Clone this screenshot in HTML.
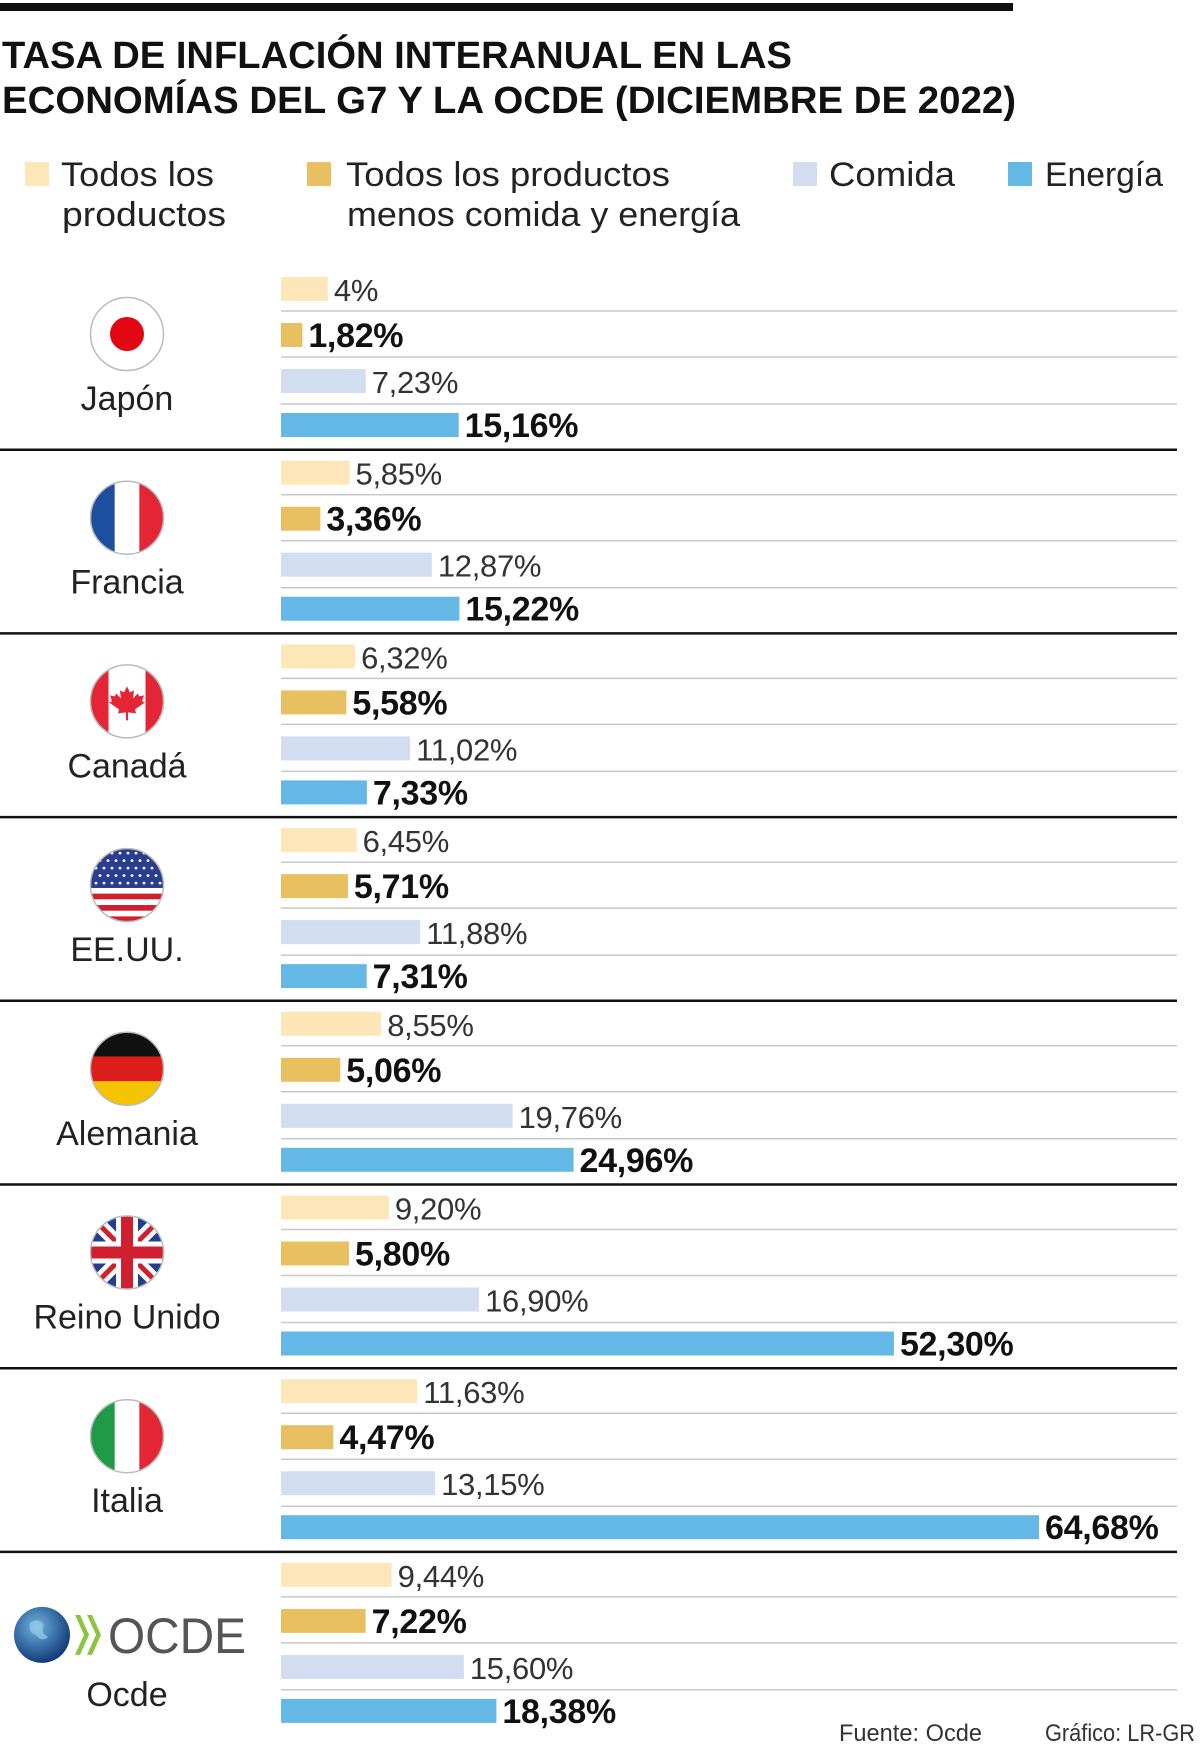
<!DOCTYPE html>
<html><head><meta charset="utf-8">
<style>
html,body{margin:0;padding:0;background:#fff;}
svg{display:block;font-family:"Liberation Sans",sans-serif;}
</style></head>
<body>
<svg id="chart" width="1200" height="1749" viewBox="0 0 1200 1749" xmlns="http://www.w3.org/2000/svg">
  <rect x="0" y="3" width="1013" height="8" fill="#111"/>
  <text x="2" y="68" font-size="38" font-weight="bold" fill="#111" textLength="790" lengthAdjust="spacingAndGlyphs">TASA DE INFLACIÓN INTERANUAL EN LAS</text>
  <text x="2" y="113" font-size="38" font-weight="bold" fill="#111" textLength="1014" lengthAdjust="spacingAndGlyphs">ECONOMÍAS DEL G7 Y LA OCDE (DICIEMBRE DE 2022)</text>

  <g font-size="34" fill="#222">
    <g>
      <rect x="25" y="162" width="24" height="24" fill="#fde7b8"/>
      <text x="61" y="186" textLength="153" lengthAdjust="spacingAndGlyphs">Todos los</text>
      <text x="62" y="226" textLength="164" lengthAdjust="spacingAndGlyphs">productos</text>
    </g>
    <g>
      <rect x="307" y="162" width="24" height="24" fill="#e8c062"/>
      <text x="346" y="186" textLength="324" lengthAdjust="spacingAndGlyphs">Todos los productos</text>
      <text x="347" y="226" textLength="393" lengthAdjust="spacingAndGlyphs">menos comida y energía</text>
    </g>
    <g>
      <rect x="793" y="162" width="24" height="24" fill="#d3ddf0"/>
      <text x="829" y="186" textLength="126" lengthAdjust="spacingAndGlyphs">Comida</text>
    </g>
    <g>
      <rect x="1008" y="162" width="24" height="24" fill="#63b8e6"/>
      <text x="1045" y="186" textLength="118" lengthAdjust="spacingAndGlyphs">Energía</text>
    </g>
  </g>

  <g id="groups"></g>

  <text x="839" y="1741" font-size="24" fill="#333" textLength="143" lengthAdjust="spacingAndGlyphs">Fuente: Ocde</text>
  <text x="1045" y="1741" font-size="24" fill="#333" textLength="150" lengthAdjust="spacingAndGlyphs">Gráfico: LR-GR</text>
</svg>
<script>
const countries = ["Japón","Francia","Canadá","EE.UU.","Alemania","Reino Unido","Italia","Ocde"];
const todos = [4, 5.85, 6.32, 6.45, 8.55, 9.20, 11.63, 9.44];
const subyacente = [1.82, 3.36, 5.58, 5.71, 5.06, 5.80, 4.47, 7.22];
const comida = [7.23, 12.87, 11.02, 11.88, 19.76, 16.90, 13.15, 15.60];
const energia = [15.16, 15.22, 7.33, 7.31, 24.96, 52.30, 64.68, 18.38];
const todosLabels = ["4%","5,85%","6,32%","6,45%","8,55%","9,20%","11,63%","9,44%"];
const subyacenteLabels = ["1,82%","3,36%","5,58%","5,71%","5,06%","5,80%","4,47%","7,22%"];
const comidaLabels = ["7,23%","12,87%","11,02%","11,88%","19,76%","16,90%","13,15%","15,60%"];
const energiaLabels = ["15,16%","15,22%","7,33%","7,31%","24,96%","52,30%","64,68%","18,38%"];

const NS = "http://www.w3.org/2000/svg";
const X0 = 281, PX_PER_PCT = 11.72, GROUP_TOP = 266, GROUP_H = 183.7;
const xScale = v => v * PX_PER_PCT;
const groupY = i => GROUP_TOP + i * GROUP_H;
const root = document.getElementById("groups");

function mk(tag, attrs, parent) {
  const e = document.createElementNS(NS, tag);
  for (const k in attrs) e.setAttribute(k, attrs[k]);
  parent.appendChild(e);
  return e;
}

const series = [
  {vals: todos, labels: todosLabels, color: "#fde7b8", bold: false, key: "todos"},
  {vals: subyacente, labels: subyacenteLabels, color: "#e8c062", bold: true, key: "subyacente"},
  {vals: comida, labels: comidaLabels, color: "#d3ddf0", bold: false, key: "comida"},
  {vals: energia, labels: energiaLabels, color: "#63b8e6", bold: true, key: "energia"}
];
const rowOffsets = [23, 69, 115, 159];
const gridOffsets = [45, 91, 138];

function drawFlag(i, g, cx, cy) {
  const r = 37;
  const clipId = "clip" + i;
  const cp = mk("clipPath", {id: clipId}, g);
  mk("circle", {cx, cy, r}, cp);
  const fg = mk("g", {"clip-path": "url(#" + clipId + ")"}, g);
  const L = cx - r, T = cy - r, D = 2 * r;
  const name = countries[i];
  if (name === "Japón") {
    mk("rect", {x: L, y: T, width: D, height: D, fill: "#fff"}, fg);
    mk("circle", {cx, cy, r: 17, fill: "#e30613"}, fg);
  } else if (name === "Francia" || name === "Italia") {
    const c = name === "Francia" ? ["#1d4fa0", "#fff", "#e42535"] : ["#1f9a47", "#fff", "#e42535"];
    c.forEach((col, k) => mk("rect", {x: L + k * D / 3, y: T, width: D / 3 + 0.5, height: D, fill: col}, fg));
  } else if (name === "Canadá") {
    mk("rect", {x: L, y: T, width: D, height: D, fill: "#fff"}, fg);
    mk("rect", {x: L, y: T, width: D / 4, height: D, fill: "#e42535"}, fg);
    mk("rect", {x: L + D * 3 / 4, y: T, width: D / 4, height: D, fill: "#e42535"}, fg);
    mk("path", {d: `M${cx} ${cy-15} l3 6 4-2 -1 8 5-5 1 3 5-1 -2 6 3 1 -10 7 1 4 -8-1 0 8 -2 0 0-8 -8 1 1-4 -10-7 3-1 -2-6 5 1 1-3 5 5 -1-8 4 2z`, fill: "#e42535"}, fg);
  } else if (name === "EE.UU.") {
    for (let k = 0; k < 13; k++) mk("rect", {x: L, y: T + k * D / 13, width: D, height: D / 13 + 0.3, fill: k % 2 ? "#fff" : "#d0202f"}, fg);
    mk("rect", {x: L, y: T, width: D, height: D * 7 / 13, fill: "#2a3d8f"}, fg);
    for (let a = 0; a < 5; a++) for (let b = 0; b < 9; b++)
      mk("circle", {cx: L + 6 + b * 8 + (a % 2) * 4, cy: T + 5 + a * 7.5, r: 1.4, fill: "#fff"}, fg);
  } else if (name === "Alemania") {
    ["#111", "#dd1c1c", "#f5c400"].forEach((col, k) => mk("rect", {x: L, y: T + k * D / 3, width: D, height: D / 3 + 0.5, fill: col}, fg));
  } else if (name === "Reino Unido") {
    mk("rect", {x: L, y: T, width: D, height: D, fill: "#243d8c"}, fg);
    mk("path", {d: `M${L} ${T} L${L+D} ${T+D} M${L+D} ${T} L${L} ${T+D}`, stroke: "#fff", "stroke-width": 14}, fg);
    mk("path", {d: `M${L} ${T} L${L+D} ${T+D} M${L+D} ${T} L${L} ${T+D}`, stroke: "#d0202f", "stroke-width": 5}, fg);
    mk("path", {d: `M${cx} ${T} V${T+D} M${L} ${cy} H${L+D}`, stroke: "#fff", "stroke-width": 22}, fg);
    mk("path", {d: `M${cx} ${T} V${T+D} M${L} ${cy} H${L+D}`, stroke: "#d0202f", "stroke-width": 12}, fg);
  }
  mk("circle", {cx, cy, r: r - 0.5, fill: "none", stroke: "#bbb", "stroke-width": 1.5}, g);
}

function drawOcde(g, cx, cy) {
  const grad = mk("radialGradient", {id: "globeGrad", cx: "40%", cy: "35%", r: "65%"}, g);
  mk("stop", {offset: "0", "stop-color": "#6fb3e0"}, grad);
  mk("stop", {offset: "1", "stop-color": "#123d7a"}, grad);
  mk("circle", {cx: 42, cy: cy, r: 28, fill: "url(#globeGrad)"}, g);
  mk("path", {d: `M30 ${cy-12} q8 -6 14 2 q-4 8 4 12 q-6 6 -12 -2 q-8 -2 -6 -12z`, fill: "#a9d3ee", opacity: 0.6}, g);
  mk("path", {d: `M75 ${cy-20} l9 20 -9 20 h5 l9 -20 -9 -20z M87 ${cy-20} l9 20 -9 20 h5 l9 -20 -9 -20z`, fill: "#8cc43f"}, g);
  const t = mk("text", {x: 108, y: cy + 18, "font-size": 50, fill: "#555", textLength: 138, lengthAdjust: "spacingAndGlyphs"}, g);
  t.textContent = "OCDE";
}

countries.forEach((name, i) => {
  const t = groupY(i);
  const g = mk("g", {}, root);
  
  

  gridOffsets.forEach(o => {
    const ln = mk("line", {x1: X0, x2: 1177, y1: t + o, y2: t + o, stroke: "#c8c8c8", "stroke-width": 1.5}, g);
    
    
  });
  if (i < countries.length - 1) {
    const sep = mk("line", {x1: 0, x2: 1177, y1: t + GROUP_H, y2: t + GROUP_H, stroke: "#111", "stroke-width": 2.5}, g);
    
    
  }

  series.forEach((s, k) => {
    const cy = t + rowOffsets[k];
    const w = xScale(s.vals[i]);
    const bar = mk("rect", {x: X0, y: cy - 12, width: w, height: 24, fill: s.color}, g);
    
    
    const lbl = mk("text", {x: X0 + w + 6, y: cy + 12, "font-size": s.bold ? 34 : 31,
      "font-weight": s.bold ? "bold" : "normal", fill: s.bold ? "#111" : "#333", "letter-spacing": -0.3}, g);
    
    
    lbl.textContent = s.labels[i];
  });

  const fg = mk("g", {}, g);
  
  
  if (name === "Ocde") drawOcde(fg, 127, t + 83);
  else drawFlag(i, fg, 127, t + 68);

  const nm = mk("text", {x: 127, y: name === "Ocde" ? t + 154 : t + 144, "font-size": 34, fill: "#222", "text-anchor": "middle"}, g);
  
  
  nm.textContent = name;
});
</script>
</body></html>
